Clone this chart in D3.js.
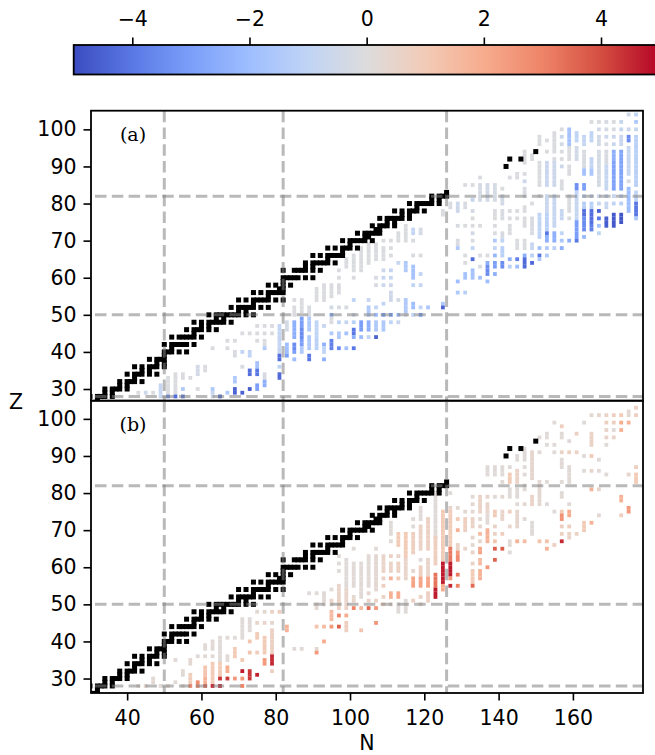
<!DOCTYPE html>
<html>
<head>
<meta charset="utf-8">
<script src="https://cdnjs.cloudflare.com/ajax/libs/d3/7.8.5/d3.min.js"></script>
<style>
html, body { margin: 0; padding: 0; background: #fff; overflow: hidden; }
svg text { font-family: "DejaVu Sans", sans-serif; }
</style>
</head>
<body>
<div id="chart"></div>
<script>
// tick labels
var nTicks = [40, 60, 80, 100, 120, 140, 160];
var zTicks = [30, 40, 50, 60, 70, 80, 90, 100];
var barTicks = [-4, -2, 0, 2, 4];
var magicN = [50, 82, 126];
var magicZ = [28, 50, 82];

// black squares, [Z, N, N, ...]
var stable = [
	[26, 30, 31, 32], [27, 32], [28, 30, 32, 33, 34, 36], [29, 34, 36], [30, 34, 36, 37, 38, 40], [31, 38, 40],
	[32, 38, 40, 41, 42, 44], [33, 42], [34, 40, 42, 43, 44, 46, 48], [35, 44, 46], [36, 42, 44, 46, 47, 48, 50],
	[37, 48, 50], [38, 46, 48, 49, 50], [39, 50], [40, 50, 51, 52, 54, 56], [41, 52], [42, 50, 52, 53, 54, 55, 56, 58],
	[44, 52, 54, 55, 56, 57, 58, 60], [45, 58], [46, 56, 58, 59, 60, 62, 64], [47, 60, 62],
	[48, 58, 60, 62, 63, 64, 65, 66, 68], [49, 64, 66], [50, 62, 64, 65, 66, 67, 68, 69, 70, 72, 74], [51, 70, 72],
	[52, 68, 70, 71, 72, 73, 74, 76, 78], [53, 74], [54, 70, 72, 74, 75, 76, 77, 78, 80, 82], [55, 78],
	[56, 74, 76, 78, 79, 80, 81, 82], [57, 81, 82], [58, 78, 80, 82, 84], [59, 82], [60, 82, 83, 84, 85, 86, 88, 90],
	[62, 82, 85, 86, 87, 88, 90, 92], [63, 88, 90], [64, 88, 90, 91, 92, 93, 94, 96], [65, 94],
	[66, 90, 92, 94, 95, 96, 97, 98], [67, 98], [68, 94, 96, 98, 99, 100, 102], [69, 100],
	[70, 98, 100, 101, 102, 103, 104, 106], [71, 104, 105], [72, 102, 104, 105, 106, 107, 108], [73, 107, 108],
	[74, 106, 108, 109, 110, 112], [75, 110, 112], [76, 108, 110, 111, 112, 113, 114, 116], [77, 114, 116],
	[78, 112, 114, 116, 117, 118, 120], [79, 118], [80, 116, 118, 119, 120, 121, 122, 124], [81, 122, 124],
	[82, 122, 124, 125, 126], [83, 126], [90, 142], [92, 143, 146], [94, 150]
];

// panel (a) runs, [N, Z low, Z high, value]
var cellsA = [
	[43,29,29,-.1],[45,29,29,-.6],[47,29,29,-.1],[49,28,31,-.8],[51,29,33,-.1],[51,28,28,-3.5],[53,29,34,-.1],[53,28,28,-4.3],
	[55,33,34,-.1],[55,30,30,-1.5],[55,28,28,-4],[57,33,33,-.1],[59,34,36,-.4],[59,30,30,-.1],[61,35,36,-.1],
	[63,41,41,-.1],[63,30,30,-1.5],[63,29,29,-.8],[63,28,28,-.5],[65,28,28,-4.3],[67,43,43,-.1],[67,41,41,-.1],[67,29,29,-1.5],
	[69,43,43,-.1],[69,39,40,-.2],[69,32,33,-1.5],[69,29,30,-4.5],[71,45,45,-.1],[71,40,40,-1],[71,36,36,-.2],[71,29,29,-4.5],
	[73,45,45,-.1],[73,39,40,-1],[73,34,35,-4.2],[73,30,30,-4.6],[75,47,47,-.1],[75,45,45,-.1],[75,43,43,-.1],[75,36,37,-1.8],[75,34,35,-4],[75,30,31,-3],
	[77,47,47,-.1],[77,45,45,-.1],[77,42,43,-.1],[77,41,41,-1.5],[77,33,34,-.2],[77,31,32,-2.5],[79,47,47,-.1],[79,45,45,-.1],
	[81,40,47,-.9],[81,38,39,-4.2],[81,36,36,-1],[81,33,34,-4.3],
	[83,46,48,-.3],[83,40,42,-2],[83,39,39,-3],
	[85,54,54,-.1],[85,50,52,-.1],[85,44,48,-2.5],[85,41,42,-3.5],[85,40,40,-3],[85,38,38,-2],
	[87,51,54,-.1],[87,47,49,-3],[87,44,46,-3.5],[87,42,43,-3],[87,40,41,-1.5],
	[89,50,52,-.2],[89,46,49,-1.5],[89,41,44,-1.5],[89,38,39,-4],
	[91,54,57,-.1],[91,44,48,-1],[91,41,43,-1.2],
	[93,54,58,-.1],[93,47,47,-.8],[93,42,42,-2.5],[93,40,41,-1],[93,38,38,-2.5],
	[95,55,58,-.1],[95,52,52,-.4],[95,50,50,-2.5],[95,48,49,-.1],[95,45,45,-1.5],[95,41,43,-3.8],
	[97,62,62,-.1],[97,60,60,-.1],[97,56,58,-.1],[97,52,52,-.2],[97,48,48,-1],[97,44,45,-1.5],[97,41,41,-3.5],
	[99,63,65,-.1],[99,52,52,-.2],[99,48,48,-.8],[99,45,45,-1.8],[99,41,41,-1.8],
	[101,62,66,-.1],[101,60,60,-.1],[101,54,54,-1],[101,50,50,-.4],[101,48,48,-1.2],[101,45,46,-4],[101,44,44,-2.5],[101,41,41,-4],
	[103,62,68,-.1],[103,46,48,-3],[103,44,44,-2],
	[105,64,69,-.1],[105,54,54,-.8],[105,50,52,-1.5],[105,46,48,-2.5],[105,44,44,-1],
	[107,65,69,-.1],[107,60,60,-.2],[107,58,58,-.2],[107,52,52,-1],[107,50,50,-2],[107,46,48,-1.5],[107,44,44,-4.5],
	[109,70,70,-.1],[109,65,68,-.1],[109,62,62,-.6],[109,60,60,-.8],[109,58,58,-.6],[109,53,53,-.9],[109,50,50,-3],[109,46,48,-1.5],
	[111,70,70,-.1],[111,68,68,-.1],[111,66,66,-.1],[111,62,62,-.9],[111,60,60,-.8],[111,58,58,-.6],[111,54,56,-.5],[111,50,50,-3],[111,48,48,-1],
	[113,70,72,-.1],[113,64,64,-.8],[113,54,54,-.3],[113,50,50,-1.8],[113,48,48,-.7],
	[115,70,74,-.1],[115,62,64,-1.5],[115,51,54,-1.5],[115,50,50,-.3],
	[117,72,73,-.9],[117,70,70,-.2],[117,66,66,-.2],[117,60,63,-1.8],[117,58,58,-1],[117,52,53,-2],[117,50,50,-1],
	[119,72,73,-.3],[119,66,66,-.1],[119,61,61,-1],[119,58,58,-.8],[119,52,52,-1],[119,50,50,-3],
	[121,52,52,-1.6],[125,77,78,-.1],[125,53,53,-1.5],[125,52,52,-4.5],
	[127,79,80,-.2],
	[129,78,80,-.6],[129,74,74,-.2],[129,69,70,-.2],[129,68,68,-1.5],[129,59,59,-2],[129,56,56,-1.5],
	[131,85,85,-.1],[131,79,80,-.2],[131,74,74,-.1],[131,66,66,-.1],[131,64,64,-.1],[131,60,61,-1.8],[131,56,56,-1.2],
	[133,85,85,-.1],[133,81,81,-.8],[133,78,78,-.3],[133,76,76,-.1],[133,74,74,-.1],[133,72,72,-.4],[133,70,70,-.1],[133,68,68,-1],[133,65,65,-4.3],[133,60,62,-1.8],
	[135,87,87,-.1],[135,81,85,-.3],[135,74,74,-.1],[135,66,66,-.1],[135,63,63,-.1],[135,60,60,-1.8],
	[137,81,85,-.4],[137,66,66,-.1],[137,64,64,-2.5],[137,61,63,-3.5],[137,59,59,-2],
	[139,81,85,-.3],[139,76,78,-.1],[139,74,74,-.1],[139,72,72,-.1],[139,70,70,-1.5],[139,68,68,-.9],[139,66,66,-2.2],[139,63,64,-3],[139,61,61,-2.5],
	[141,84,84,-.1],[141,80,82,-.4],[141,76,78,-.2],[141,71,72,-.2],[141,70,70,-1],[141,66,68,-1.2],[141,63,64,-3.5],
	[143,87,87,-.1],[143,78,78,-.1],[143,76,76,-.1],[143,72,74,-.1],[143,65,65,-2.5],[143,63,63,-1.2],
	[145,87,88,-.1],[145,78,78,-.1],[145,76,76,-.1],[145,68,70,-.1],[145,65,65,-3.8],[145,63,63,-2],
	[147,91,94,-.1],[147,88,88,-.1],[147,86,86,-.6],[147,82,84,-.2],[147,78,79,-.1],[147,74,76,-.1],[147,68,70,-.1],[147,66,66,-2.5],[147,63,65,-4.3],
	[149,92,93,-.1],[149,80,80,-.1],[149,72,76,-.2],[149,68,69,-.8],[149,66,66,-1.2],[149,64,64,-4.4],
	[151,96,98,-.1],[151,85,91,-.1],[151,82,82,-.1],[151,71,77,-1],[151,68,68,-1.8],[151,66,66,-4],[151,65,65,-1.5],
	[153,97,97,-.1],[153,94,94,-.1],[153,85,91,-.7],[153,78,82,-.7],[153,73,77,-1.2],[153,72,72,-4],[153,70,71,-2.5],[153,68,68,-1.5],[153,66,66,-1.5],
	[155,94,99,-.1],[155,92,92,-.1],[155,85,91,-.6],[155,78,82,-.8],[155,74,77,-.8],[155,70,72,-2.5],[155,68,68,-1.2],
	[157,100,100,-.1],[157,98,98,-.7],[157,96,96,-.3],[157,94,94,-.1],[157,92,92,-.1],[157,90,90,-.6],[157,84,86,-.1],[157,76,78,-.8],[157,72,72,-1],[157,70,70,-1.6],[157,68,68,-2.5],
	[159,96,100,-1.8],[159,92,95,-.1],[159,88,90,-.1],[159,78,82,-.1],[159,76,76,-.1],[159,70,70,-2.5],
	[161,97,99,-1],[161,92,95,-.4],[161,84,85,-3.4],[161,82,83,-1],[161,76,81,-.8],[161,71,75,-3],[161,70,70,-4],
	[163,96,98,-.9],[163,90,94,-.2],[163,88,89,-1.8],[163,84,85,-3],[163,82,82,-1],[163,79,80,-1.3],[163,77,78,-4.2],[163,73,76,-3.5],[163,71,71,-2.2],
	[165,102,102,-.1],[165,97,99,-1],[165,90,92,-.9],[165,88,89,-1.6],[165,82,82,-.8],[165,79,80,-1.2],[165,75,78,-4.2],[165,73,74,-3.8],
	[167,102,102,-.1],[167,100,100,-.5],[167,96,98,-.4],[167,85,94,-.3],[167,82,82,-.6],[167,80,80,-.8],[167,78,78,-4.5],[167,76,76,-4],[167,74,74,-1.8],[167,72,72,-1],
	[169,102,102,-.2],[169,100,100,-.3],[169,98,98,-.6],[169,96,96,-.2],[169,91,94,-.2],[169,84,90,-.8],[169,82,82,-.9],[169,79,80,-.8],[169,74,76,-4.6],
	[171,102,102,-.1],[171,100,100,-.2],[171,98,98,-.7],[171,96,96,-.7],[171,92,94,-2.5],[171,84,91,-2.9],[171,82,82,-.8],[171,80,80,-1],[171,74,77,-4.7],
	[173,102,102,-.8],[173,100,100,-.8],[173,96,98,-.7],[173,84,94,-2.8],[173,82,82,-1],[173,80,80,-1.2],[173,75,77,-4.8],
	[175,104,104,-.5],[175,100,100,-.6],[175,97,98,-3.5],[175,88,95,-.8],[175,86,86,-.2],[175,78,84,-2],
	[177,104,104,-1],[177,102,102,-1.5],[177,100,100,-.8],[177,85,98,-1.2],[177,81,83,-1],[177,77,80,-4],[177,76,76,-1.5]
];

// panel (b) runs, [N, Z low, Z high, value]
var cellsB = [
	[43,28,28,.2],[45,28,28,.3],[47,29,30,.3],[49,28,28,.2],[51,28,28,.2],[53,35,35,.2],[53,29,29,.2],[55,31,32,.2],[55,28,28,.2],
	[57,34,35,.3],[57,29,31,.9],[57,28,28,2.8],[59,36,36,.1],[59,28,29,2.8],
	[61,38,39,.2],[61,36,36,.2],[61,31,33,1.2],[61,29,30,1.8],[61,28,28,3.5],
	[63,38,40,.2],[63,36,36,.2],[63,29,34,1],[63,28,28,4.5],
	[65,35,41,.1],[65,31,34,1],[65,30,30,4.3],[65,28,28,4.5],
	[67,41,41,.2],[67,35,36,.2],[67,32,33,2],[67,30,30,4.3],
	[69,41,41,.1],[69,36,38,1],[69,30,30,2.5],
	[71,41,46,.1],[71,35,35,1],[71,32,32,4.7],[71,30,30,2.5],[71,28,28,3],
	[73,43,46,.1],[73,40,40,1.2],[73,37,37,1.2],[73,30,32,4.3],
	[75,48,48,.3],[75,45,45,.5],[75,41,42,1],[75,37,37,.8],[75,31,31,4.6],
	[77,48,48,.3],[77,45,45,.5],[77,37,41,1],[77,34,35,2.5],
	[79,48,48,.6],[79,45,45,.4],[79,37,43,.7],[79,34,36,4.5],[79,32,32,.7],[81,48,48,.8],
	[83,43,44,1.8],[85,38,38,.1],[87,38,38,.2],[89,53,53,.1],
	[91,53,53,.1],[91,49,50,.3],[91,44,44,1.2],[91,38,38,.3],[91,37,37,2.5],
	[93,53,53,.1],[93,50,52,.2],[93,44,44,1.5],[93,40,40,2],
	[95,54,54,.2],[95,51,51,.6],[95,50,50,.3],[95,46,48,1.5],[95,44,44,2.5],
	[97,63,63,.1],[97,61,61,.1],[97,59,59,.1],[97,52,55,.5],[97,49,51,.7],[97,47,47,3],[97,44,44,3.7],
	[99,55,62,.1],[99,50,54,.5],[99,49,49,.6],[99,47,47,2],[99,43,45,.8],
	[101,65,65,.1],[101,55,61,.2],[101,52,52,.3],[101,51,51,.5],[101,49,49,3],
	[103,52,61,.2],[103,49,49,1.5],[103,43,43,1.2],
	[105,55,63,.2],[105,53,53,.4],[105,51,51,.6],[105,49,49,3.5],
	[107,65,65,.2],[107,54,63,.3],[107,51,51,.6],[107,49,49,2.5],[107,45,45,2.6],
	[109,60,63,.5],[109,59,59,.6],[109,57,57,.6],[109,55,55,.8],[109,52,52,.6],[109,50,50,.7],
	[111,70,72,.1],[111,69,69,.1],[111,67,67,.2],[111,63,63,.7],[111,59,61,.6],[111,57,57,1.8],[111,52,53,1.8],[111,50,50,.4],
	[113,66,69,1],[113,63,63,.5],[113,59,61,.7],[113,57,57,1],[113,52,53,2],[113,48,50,.1],
	[115,63,69,1],[115,57,62,.5],[115,48,51,.1],
	[117,73,73,.1],[117,71,71,.1],[117,64,69,.8],[117,59,59,.4],[117,55,57,2.2],[117,51,51,.7],
	[119,73,76,.1],[119,65,71,.6],[119,62,62,.1],[119,58,60,.8],[119,55,57,2.2],[119,52,52,.6],[119,50,50,.4],
	[121,65,73,.7],[121,58,62,.5],[121,55,57,2.2],[121,51,53,.7],
	[123,68,80,.1],[123,61,68,.8],[123,55,58,3.3],[123,52,54,4.7],
	[125,64,75,1],[125,62,63,.9],[125,56,61,4.7],[125,54,55,2],
	[127,80,80,.1],[127,76,76,.5],[127,66,75,.9],[127,62,65,3.2],[127,58,61,4.7],[127,57,57,2.5],[127,55,55,4.5],
	[129,76,76,.3],[129,73,73,1],[129,70,70,1.8],[129,65,66,.6],[129,64,64,2.5],[129,62,63,2.8],[129,58,58,3.2],[129,55,55,3],
	[131,75,75,.3],[131,70,73,.8],[131,65,65,.5],
	[133,79,79,.2],[133,77,77,.3],[133,75,75,.3],[133,71,73,.6],[133,68,68,.4],[133,66,66,.3],[133,64,64,.6],[133,61,61,.6],[133,56,59,1],[133,55,55,3.5],
	[135,75,79,.6],[135,73,73,.3],[135,71,71,.4],[135,69,69,1.5],[135,67,67,.4],[135,64,65,2.2],[135,61,62,1.5],[135,57,59,1.8],
	[137,85,87,.1],[137,79,79,.5],[137,75,77,.5],[137,72,74,.2],[137,67,70,1.8],[137,60,60,2.5],
	[139,85,87,.1],[139,79,79,.2],[139,74,75,1],[139,71,71,.6],[139,69,69,.6],[139,67,67,1.2],[139,65,65,3.7],[139,62,62,3.6],
	[141,85,87,.1],[141,83,83,.1],[141,79,79,.3],[141,73,75,.5],[141,69,69,.8],[141,65,65,3.7],
	[143,87,87,.1],[143,83,85,1],[143,79,81,.1],[143,75,75,.8],[143,71,71,.5],[143,66,67,.2],[143,64,64,.1],
	[145,89,90,.1],[145,83,86,.6],[145,79,81,.1],[145,77,77,.1],[145,71,75,.4],[145,67,67,1.8],
	[147,89,92,.1],[147,87,87,.1],[147,85,85,.1],[147,82,82,.1],[147,81,81,.1],[147,77,77,.3],[147,73,73,.2],[147,67,67,1.5],
	[149,84,91,.4],[149,77,79,.6],[149,69,72,.1],
	[151,95,95,.1],[151,91,91,.1],[151,78,83,.3],[151,77,77,.3],[151,67,67,1.2],
	[153,95,96,.1],[153,93,93,.1],[153,83,83,.1],[153,77,77,.1],[153,67,67,1.3],[153,65,65,1.8],
	[155,99,99,.1],[155,93,93,.1],[155,91,91,.1],[155,75,75,.1],[155,66,66,.8],
	[157,98,98,.8],[157,95,96,.2],[157,91,91,.6],[157,87,89,.2],[157,83,83,.2],[157,79,80,.2],[157,75,75,1],[157,73,74,2.7],[157,71,71,.8],[157,69,69,.7],[157,67,67,4.5],
	[159,94,94,.1],[159,91,91,.7],[159,83,87,.2],[159,77,77,.2],[159,74,75,2],[159,71,71,.8],[159,68,69,.6],
	[161,96,96,.7],[161,91,91,.6],[161,69,69,.6],
	[163,99,99,.1],[163,90,90,.2],[163,86,86,.1],[163,70,72,1],
	[165,101,101,.3],[165,93,96,.6],[165,90,90,1],[165,86,86,.5],[165,81,81,1.8],[165,72,72,1.8],
	[167,101,101,.4],[167,89,89,.1],[167,86,86,.2],[167,81,81,.4],[167,74,74,.3],
	[169,101,101,.6],[169,99,99,.7],[169,97,97,.5],[169,95,95,.5],[169,93,93,.1],[169,85,85,.1],
	[171,101,101,.8],[171,99,99,.8],[171,97,97,.1],[171,95,95,.5],
	[173,101,101,1],[173,99,99,2],[173,97,97,1.8],[173,78,79,1.8],[173,74,74,.8],
	[175,101,102,.3],[175,99,99,1.8],[175,85,85,.4],[175,75,76,2.5],
	[177,103,103,.7],[177,101,101,.8],[177,87,87,.8],[177,83,85,1]
];

var coolwarm = ["#3b4cc0", "#5a78e4", "#7b9ff9", "#9ebeff", "#c0d4f5", "#dddcdc", "#f2cbb7", "#f7ac8e", "#ee8468", "#d44e41", "#b40426"];

var width = 655, height = 755;
var fontSize = "20.5px";
var color = d3.scaleLinear()
	.domain(d3.range(coolwarm.length).map(function (i) { return -5 + i; }))
	.range(coolwarm);

var svg = d3.select("#chart").append("svg")
	.attr("width", width)
	.attr("height", height)
	.style("display", "block");

var x = d3.scaleLinear().domain([30.27, 178.87]).range([91, 643]);

//--colorbar
var barX = d3.scaleLinear().domain([-5, 5]).range([73.7, 659.6]);
var grad = svg.append("defs").append("linearGradient").attr("id", "cbar");
coolwarm.forEach(function (c, i) {
	grad.append("stop").attr("offset", (i * 10) + "%").attr("stop-color", c);
});
svg.append("rect")
	.attr("x", barX(-5))
	.attr("y", 45)
	.attr("width", barX(5) - barX(-5))
	.attr("height", 29.5)
	.attr("fill", "url(#cbar)")
	.attr("stroke", "#000")
	.attr("stroke-width", 1.8);
var barAxis = svg.append("g")
	.attr("transform", "translate(0,45)")
	.call(d3.axisTop(barX).tickValues(barTicks).tickSize(7.5).tickPadding(12));
styleAxis(barAxis);

//--panels
function drawPanel(name, cells, yScale, label) {
	var top = yScale.range()[1], bottom = yScale.range()[0];
	var g = svg.append("g");
	g.append("clipPath").attr("id", "clip" + name)
		.append("rect")
		.attr("x", x.range()[0])
		.attr("y", top)
		.attr("width", x.range()[1] - x.range()[0])
		.attr("height", bottom - top);

	var plot = g.append("g").attr("clip-path", "url(#clip" + name + ")");

	// expand runs into one square per Z
	var squares = [];
	cells.forEach(function (r) {
		for (var z = r[1]; z <= r[2]; z++) {
			squares.push({ n: r[0], z: z, v: r[3] });
		}
	});
	var cellSize = 3.8;
	plot.selectAll("rect.cell").data(squares).enter().append("rect")
		.attr("class", "cell")
		.attr("x", function (d) { return x(d.n) - cellSize / 2; })
		.attr("y", function (d) { return yScale(d.z) - cellSize / 2; })
		.attr("width", cellSize)
		.attr("height", cellSize)
		.attr("fill", function (d) { return color(d.v); });

	var black = [];
	stable.forEach(function (row) {
		row.slice(1).forEach(function (n) { black.push({ n: n, z: row[0] }); });
	});
	var blackSize = 5;
	plot.selectAll("rect.stable").data(black).enter().append("rect")
		.attr("class", "stable")
		.attr("x", function (d) { return x(d.n) - blackSize / 2; })
		.attr("y", function (d) { return yScale(d.z) - blackSize / 2; })
		.attr("width", blackSize)
		.attr("height", blackSize)
		.attr("fill", "#000");

	// magic number lines
	magicN.forEach(function (n) {
		plot.append("line")
			.attr("x1", x(n)).attr("x2", x(n))
			.attr("y1", top).attr("y2", bottom)
			.attr("class", "magic");
	});
	magicZ.forEach(function (z) {
		plot.append("line")
			.attr("x1", 95).attr("x2", x.range()[1])
			.attr("y1", yScale(z)).attr("y2", yScale(z))
			.attr("class", "magic");
	});
	plot.selectAll("line.magic")
		.attr("stroke", "#808080")
		.attr("stroke-opacity", 0.55)
		.attr("stroke-width", 3)
		.attr("stroke-dasharray", "11.5,5.3");

	g.append("rect")
		.attr("x", x.range()[0])
		.attr("y", top)
		.attr("width", x.range()[1] - x.range()[0])
		.attr("height", bottom - top)
		.attr("fill", "none")
		.attr("stroke", "#000")
		.attr("stroke-width", 1.8);

	var yAxis = g.append("g")
		.attr("transform", "translate(" + x.range()[0] + ",0)")
		.call(d3.axisLeft(yScale).tickValues(zTicks).tickSize(7.5).tickPadding(7));
	styleAxis(yAxis);

	g.append("text")
		.attr("x", 133)
		.attr("y", top + 30)
		.attr("text-anchor", "middle")
		.style("font-family", "'DejaVu Serif', serif")
		.style("font-size", "19px")
		.text(label);
}

function styleAxis(sel) {
	sel.select(".domain").remove();
	sel.selectAll("line").attr("stroke", "#000").attr("stroke-width", 1.6);
	sel.selectAll("text").attr("fill", "#000").style("font-size", fontSize);
	sel.attr("font-family", null);
}

drawPanel("a", cellsA, d3.scaleLinear().domain([26.85, 105.03]).range([400.7, 110.7]), "(a)");
drawPanel("b", cellsB, d3.scaleLinear().domain([26.1, 104.9]).range([693, 400.7]), "(b)");

var xAxis = svg.append("g")
	.attr("transform", "translate(0,693)")
	.call(d3.axisBottom(x).tickValues(nTicks).tickSize(7.5).tickPadding(10));
styleAxis(xAxis);

svg.append("text")
	.attr("x", 367).attr("y", 750)
	.attr("text-anchor", "middle")
	.style("font-size", fontSize)
	.text("N");
svg.append("text")
	.attr("x", 16).attr("y", 409)
	.attr("text-anchor", "middle")
	.style("font-size", fontSize)
	.text("Z");
</script>
</body>
</html>
